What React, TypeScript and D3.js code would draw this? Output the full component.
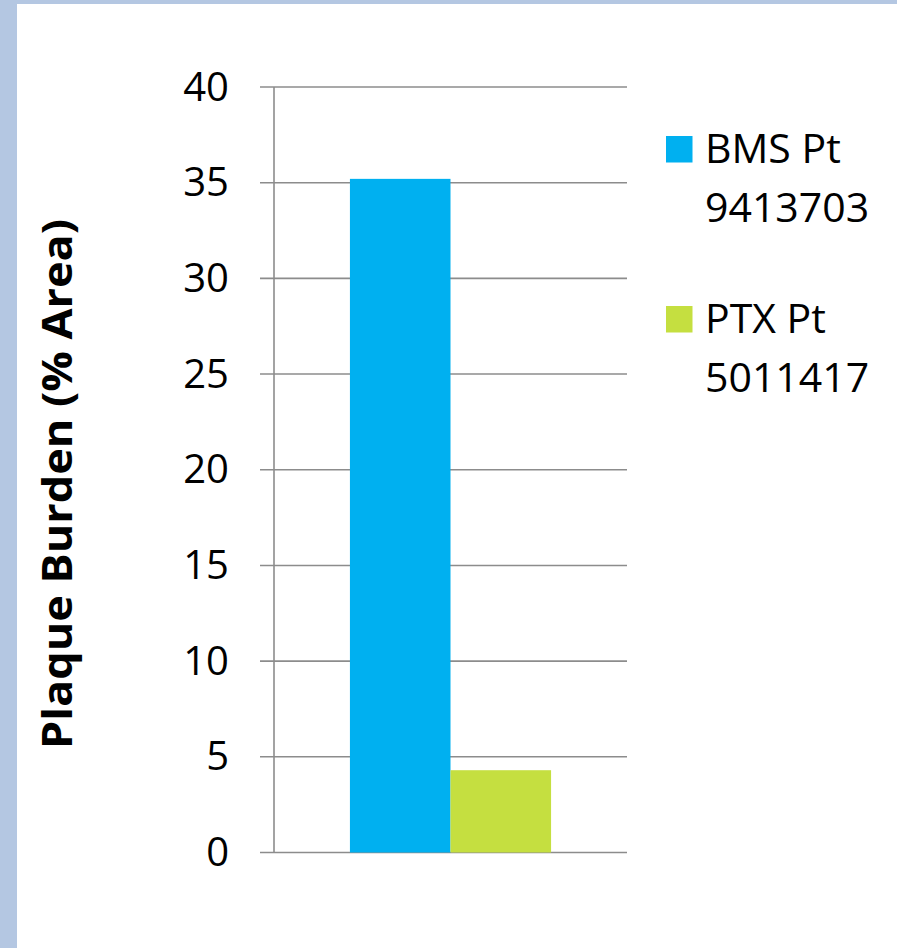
import React, { useEffect, useRef } from "react";
import * as d3 from "d3";

const seriesNames = ["BMS Pt 9413703", "PTX Pt 5011417"];
const seriesLegendLines = [["BMS Pt", "9413703"], ["PTX Pt", "5011417"]];
const seriesValues = [35.2, 4.3];
const seriesColors = ["#00b0f0", "#c5df40"];
const yTicks = [0, 5, 10, 15, 20, 25, 30, 35, 40];
const yTitle = "Plaque Burden (% Area)";

const W = 897;
const H = 948;
const FONT = "'Open Sans', 'Liberation Sans', sans-serif";

export default function App() {
  const ref = useRef<SVGSVGElement | null>(null);

  useEffect(() => {
    const svg = d3.select(ref.current);
    svg.selectAll("*").remove();

    // frame
    svg.append("rect").attr("x", 0).attr("y", 0).attr("width", W).attr("height", H).attr("fill", "#b4c7e2");
    svg.append("rect").attr("x", 17).attr("y", 4).attr("width", W - 17).attr("height", H - 4).attr("fill", "#ffffff");

    const plotLeft = 274;
    const plotRight = 627;
    const plotTop = 87;
    const plotBottom = 852.5;

    const y = d3.scaleLinear().domain([0, 40]).range([plotBottom, plotTop]);
    const x = d3.scaleBand().domain(["g"]).range([plotLeft, plotRight]).paddingInner(0).paddingOuter(0);
    const inner = d3.scaleBand().domain(seriesNames).range([0, x.bandwidth()]).paddingOuter(0.755).paddingInner(0);

    const gridColor = "#8c8c8c";

    // gridlines
    svg.append("g")
      .selectAll("line")
      .data(yTicks)
      .join("line")
      .attr("x1", plotLeft - 14)
      .attr("x2", plotRight)
      .attr("y1", (d) => y(d))
      .attr("y2", (d) => y(d))
      .attr("stroke", gridColor)
      .attr("stroke-width", 1.6);

    // bars
    svg.append("g")
      .selectAll("rect")
      .data(seriesValues)
      .join("rect")
      .attr("x", (_, i) => (x("g") as number) + (inner(seriesNames[i]) as number))
      .attr("width", inner.bandwidth())
      .attr("y", (d) => y(d))
      .attr("height", (d) => y(0) - y(d))
      .attr("fill", (_, i) => seriesColors[i]);

    // y axis line
    svg.append("line")
      .attr("x1", plotLeft)
      .attr("x2", plotLeft)
      .attr("y1", plotTop)
      .attr("y2", plotBottom)
      .attr("stroke", gridColor)
      .attr("stroke-width", 1.6);

    // tick labels
    svg.append("g")
      .selectAll("text")
      .data(yTicks)
      .join("text")
      .attr("x", 229)
      .attr("y", (d) => y(d) + 13.5)
      .attr("text-anchor", "end")
      .attr("font-family", FONT)
      .attr("font-size", 40)
      .attr("fill", "#000")
      .text((d) => String(d));

    // y title
    svg.append("text")
      .attr("transform", `translate(72,484) rotate(-90)`)
      .attr("text-anchor", "middle")
      .attr("font-family", FONT)
      .attr("font-weight", "bold")
      .attr("font-size", 42)
      .attr("textLength", 530)
      .attr("lengthAdjust", "spacingAndGlyphs")
      .attr("fill", "#000")
      .text(yTitle);

    // legend
    const legendTops = [136, 306];
    seriesLegendLines.forEach((lines, i) => {
      const g = svg.append("g");
      g.append("rect")
        .attr("x", 666)
        .attr("y", legendTops[i])
        .attr("width", 26.5)
        .attr("height", 26.5)
        .attr("fill", seriesColors[i]);
      lines.forEach((line, j) => {
        g.append("text")
          .attr("x", 705)
          .attr("y", legendTops[i] + 26.5 + j * 59)
          .attr("font-family", FONT)
          .attr("font-size", 41)
          .attr("fill", "#000")
          .text(line);
      });
    });
  }, []);

  return (
    <svg
      ref={ref}
      width={W}
      height={H}
      style={{ position: "absolute", left: 0, top: 0, display: "block" }}
    />
  );
}
